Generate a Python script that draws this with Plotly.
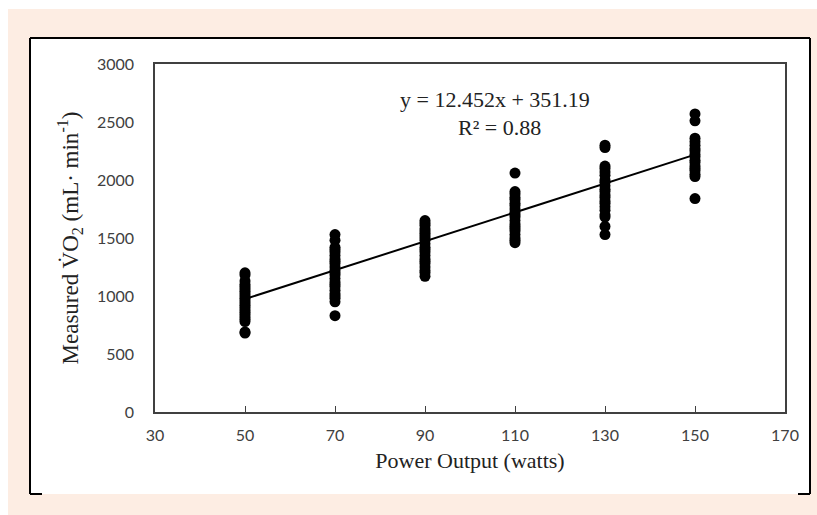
import plotly.graph_objects as go

# ---- data ----
power_levels = [50, 70, 90, 110, 130, 150]
vo2_50 = [1200, 1180, 1130, 1100, 1080, 1060, 1040, 1020, 1000, 980, 960, 940, 920, 900, 880, 860, 840, 820, 800, 780, 690, 680]
vo2_70 = [1530, 1480, 1420, 1400, 1380, 1350, 1320, 1300, 1280, 1250, 1220, 1200, 1180, 1150, 1120, 1100, 1080, 1050, 1020, 1000, 980, 950, 830]
vo2_90 = [1650, 1630, 1610, 1580, 1560, 1540, 1520, 1500, 1480, 1450, 1420, 1400, 1380, 1350, 1320, 1300, 1280, 1250, 1220, 1200, 1170]
vo2_110 = [2060, 1900, 1880, 1850, 1830, 1800, 1780, 1750, 1720, 1700, 1680, 1650, 1620, 1600, 1580, 1560, 1530, 1500, 1480, 1460]
vo2_130 = [2300, 2280, 2120, 2100, 2070, 2040, 2000, 1980, 1950, 1920, 1900, 1870, 1850, 1820, 1800, 1770, 1740, 1700, 1680, 1600, 1530]
vo2_150 = [2570, 2510, 2360, 2330, 2300, 2270, 2250, 2220, 2200, 2170, 2150, 2120, 2100, 2080, 2050, 2030, 1840]
slope = 12.452
intercept = 351.19
r_squared = 0.88
x_ticks = [30, 50, 70, 90, 110, 130, 150, 170]
y_ticks = [0, 500, 1000, 1500, 2000, 2500, 3000]

groups = [vo2_50, vo2_70, vo2_90, vo2_110, vo2_130, vo2_150]
xs, ys = [], []
for p, vals in zip(power_levels, groups):
    xs += [p] * len(vals)
    ys += vals

fig = go.Figure()
fig.add_trace(go.Scatter(x=xs, y=ys, mode="markers",
                         marker=dict(color="black", size=11),
                         showlegend=False, hoverinfo="skip"))
line_x = [power_levels[0], power_levels[-1]]
line_y = [slope * v + intercept for v in line_x]
fig.add_trace(go.Scatter(x=line_x, y=line_y, mode="lines",
                         line=dict(color="black", width=2),
                         showlegend=False, hoverinfo="skip"))

PEACH = "#fdede3"
W, H = 817, 530
L, R, T = 155, 32, 64
B = H - 412
pw, ph = W - L - R, H - T - B

def px(xp):
    return (xp - L) / pw

def py(yp):
    return (H - B - yp) / ph

shapes = [
    dict(type="rect", xref="paper", yref="paper", x0=px(0), x1=px(817), y0=py(9), y1=py(0),
         fillcolor="white", line=dict(width=0), layer="below"),
    dict(type="rect", xref="paper", yref="paper", x0=px(0), x1=px(8), y0=py(530), y1=py(0),
         fillcolor="white", line=dict(width=0), layer="below"),
    dict(type="rect", xref="paper", yref="paper", x0=px(30), x1=px(810), y0=py(494), y1=py(38),
         fillcolor="white", line=dict(width=0), layer="below"),
    dict(type="line", xref="paper", yref="paper", x0=px(30), x1=px(810), y0=py(38), y1=py(38),
         line=dict(color="black", width=2)),
    dict(type="line", xref="paper", yref="paper", x0=px(30), x1=px(30), y0=py(38), y1=py(494),
         line=dict(color="black", width=2)),
    dict(type="line", xref="paper", yref="paper", x0=px(810), x1=px(810), y0=py(38), y1=py(494),
         line=dict(color="black", width=2)),
    dict(type="line", xref="paper", yref="paper", x0=px(30), x1=px(42), y0=py(494), y1=py(494),
         line=dict(color="black", width=2)),
    dict(type="line", xref="paper", yref="paper", x0=px(798), x1=px(810), y0=py(494), y1=py(494),
         line=dict(color="black", width=2)),
]

tick_font = dict(family="Lato, Open Sans, sans-serif", size=16, color="#404040")
serif = "Liberation Serif, Times New Roman, serif"

fig.update_layout(
    width=W, height=H,
    margin=dict(l=L, r=R, t=T, b=B),
    paper_bgcolor=PEACH, plot_bgcolor="white",
    shapes=shapes,
    xaxis=dict(range=[30, 170], tickvals=x_ticks, ticktext=[str(v) for v in x_ticks],
               showgrid=False, zeroline=False, showline=True, linecolor="#404040", linewidth=1.5,
               mirror=True, ticks="inside", ticklen=6, tickcolor="#404040",
               tickfont=tick_font, ticklabelstandoff=8,
               title=dict(text="Power Output (watts)", font=dict(family=serif, size=22, color="#222"),
                          standoff=10)),
    yaxis=dict(range=[0, 3000], tickvals=y_ticks, ticktext=[str(v) for v in y_ticks],
               showgrid=False, zeroline=False, showline=True, linecolor="#404040", linewidth=1.5,
               mirror=True, ticks="", tickfont=tick_font, ticklabelstandoff=16,
               title=dict(text="Measured V\u0307O<sub>2</sub> (mL\u00b7 min<sup>-1</sup>)",
                          font=dict(family=serif, size=23, color="#222"), standoff=12)),
    annotations=[
        dict(x=105.5, y=2690, xref="x", yref="y", showarrow=False,
             text=f"y = {slope}x + {intercept}", font=dict(family=serif, size=22, color="#222")),
        dict(x=106.5, y=2455, xref="x", yref="y", showarrow=False,
             text=f"R\u00b2 = {r_squared}", font=dict(family=serif, size=22, color="#222")),
    ],
)

fig.write_html("out.html", config={"displayModeBar": False},
               post_script="document.body.style.margin='0';document.body.style.overflow='hidden';"
                           "document.body.style.background='" + PEACH + "';")
